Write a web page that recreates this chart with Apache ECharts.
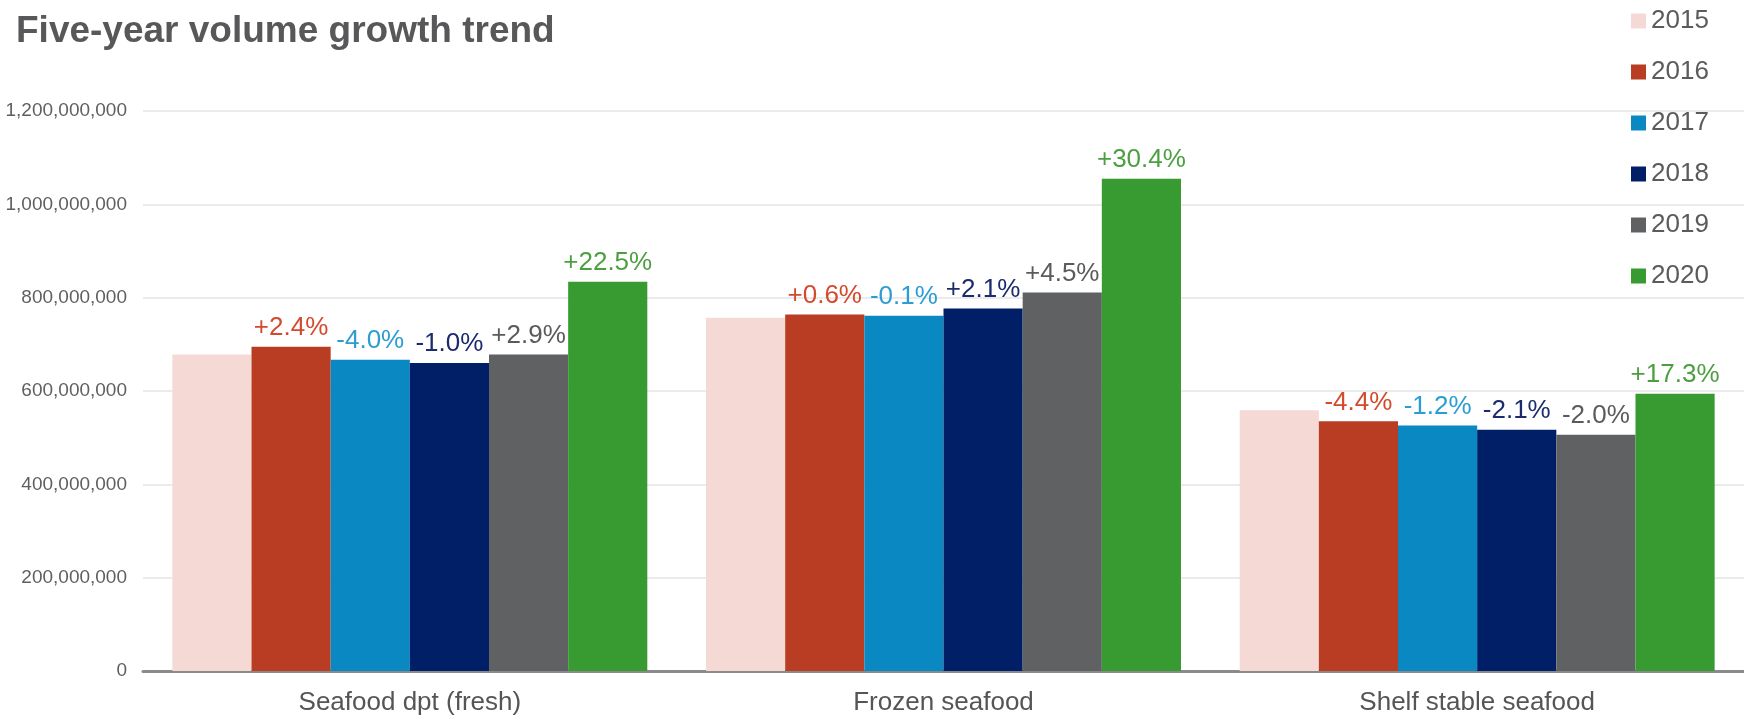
<!DOCTYPE html>
<html>
<head>
<meta charset="utf-8">
<script src="https://cdn.jsdelivr.net/npm/echarts@6/dist/echarts.min.js"></script>
<style>
html,body{margin:0;padding:0;background:#fff;}
#chart{width:1744px;height:715px;}
</style>
</head>
<body>
<div id="chart"></div>
<script>
var categories = ['Seafood dpt (fresh)', 'Frozen seafood', 'Shelf stable seafood'];
var years = ['2015', '2016', '2017', '2018', '2019', '2020'];

var v2015 = [678000000, 757000000, 559000000];
var v2016 = [695000000, 764000000, 535000000];
var v2017 = [667000000, 761000000, 526000000];
var v2018 = [660000000, 777000000, 517000000];
var v2019 = [678000000, 811000000, 506000000];
var v2020 = [834000000, 1055000000, 594000000];

var g2015 = ['', '', ''];
var g2016 = ['+2.4%', '+0.6%', '-4.4%'];
var g2017 = ['-4.0%', '-0.1%', '-1.2%'];
var g2018 = ['-1.0%', '+2.1%', '-2.1%'];
var g2019 = ['+2.9%', '+4.5%', '-2.0%'];
var g2020 = ['+22.5%', '+30.4%', '+17.3%'];

var yMin = 0, yMax = 1200000000, yStep = 200000000;

var values = [v2015, v2016, v2017, v2018, v2019, v2020];
var growth = [g2015, g2016, g2017, g2018, g2019, g2020];
var barColors = ['#f4d9d5', '#b93d22', '#0a88c2', '#001f66', '#606163', '#389b31'];
var labelColors = ['#999999', '#d44a2c', '#2c9dd3', '#1b2b6d', '#5b5b5d', '#4c9f40'];
var FONT = '"Liberation Sans", Arial, sans-serif';

var series = years.map(function (y, i) {
  return {
    name: y,
    type: 'bar',
    data: values[i],
    barGap: '0%',
    barCategoryGap: '11%',
    itemStyle: { color: barColors[i] },
    label: {
      show: i > 0,
      position: 'top',
      distance: 6,
      fontFamily: FONT,
      fontSize: 26,
      color: labelColors[i],
      formatter: function (p) { return growth[i][p.dataIndex]; }
    }
  };
});

var chart = echarts.init(document.getElementById('chart'));
chart.setOption({
  backgroundColor: '#ffffff',
  animation: false,
  title: {
    text: 'Five-year volume growth trend',
    left: 11,
    top: 8,
    textStyle: { fontFamily: FONT, fontSize: 37, fontWeight: 'bold', color: '#58585a' }
  },
  legend: {
    orient: 'vertical',
    left: 1631,
    top: 8,
    padding: 0,
    itemWidth: 15,
    itemHeight: 15,
    itemGap: 25,
    icon: 'rect',
    data: years,
    textStyle: { fontFamily: FONT, fontSize: 26, lineHeight: 26, color: '#5b5b5b' }
  },
  grid: { left: 143, right: 0, top: 111, bottom: 44, containLabel: false, outerBoundsMode: 'none' },
  xAxis: {
    type: 'category',
    data: categories,
    axisLine: { show: true, lineStyle: { color: '#8a8a8a', width: 3 } },
    axisTick: { show: false },
    axisLabel: { margin: 19, fontFamily: FONT, fontSize: 26, color: '#555555' }
  },
  yAxis: {
    type: 'value',
    min: yMin,
    max: yMax,
    interval: yStep,
    axisLine: { show: false },
    axisTick: { show: false },
    splitLine: { lineStyle: { color: '#ebebeb', width: 2 } },
    axisLabel: {
      margin: 16,
      fontFamily: FONT,
      fontSize: 19,
      color: '#5f5f5f',
      formatter: function (v) { return v.toLocaleString('en-US'); }
    }
  },
  series: series
});
</script>
</body>
</html>
